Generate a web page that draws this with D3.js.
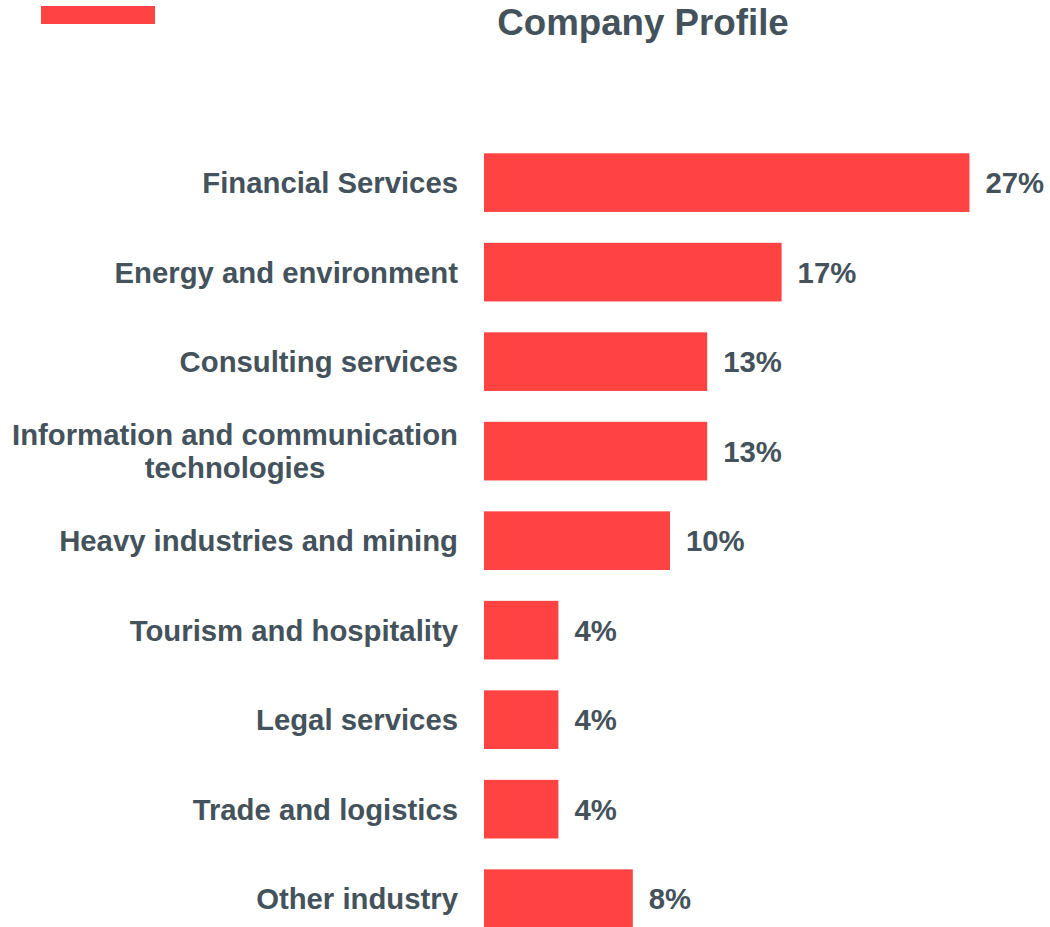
<!DOCTYPE html>
<html>
<head>
<meta charset="utf-8">
<script src="https://cdn.jsdelivr.net/npm/d3@7"></script>
<style>
  body { margin: 0; background: #fff; }
  svg text { font-family: "Liberation Sans", Arial, sans-serif; font-weight: bold; fill: #44525c; }
</style>
</head>
<body>
<div id="chart"></div>
<script>

// categories (top to bottom), bar lengths, printed labels
var categories = [
  "Financial Services",
  "Energy and environment",
  "Consulting services",
  "Information and communication technologies",
  "Heavy industries and mining",
  "Tourism and hospitality",
  "Legal services",
  "Trade and logistics",
  "Other industry"
];
var values = [26.1, 16.0, 12.0, 12.0, 10.0, 4.0, 4.0, 4.0, 8.0];
var valueLabels = ["27%", "17%", "13%", "13%", "10%", "4%", "4%", "4%", "8%"];

// category labels that wrap onto two lines
var wrapped = {
  "Information and communication technologies": ["Information and communication", "technologies"]
};

var width = 1050, height = 927;
var barColor = "#ff4242";
var labelSize = "29.3px";

var svg = d3.select("#chart")
  .append("svg")
  .attr("width", width)
  .attr("height", height);

// little red marker, top left
svg.append("rect")
  .attr("x", 41)
  .attr("y", 6)
  .attr("width", 114)
  .attr("height", 18)
  .attr("fill", barColor);

svg.append("text")
  .attr("x", 643)
  .attr("y", 35)
  .attr("text-anchor", "middle")
  .style("font-size", "36.7px")
  .text("Company Profile");

var xScale = d3.scaleLinear().domain([0, 1]).range([484, 484 + 18.6]);
var yScale = d3.scaleBand()
  .domain(categories)
  .range([153.3, 928])
  .paddingInner(0.345)
  .paddingOuter(0);

var rows = svg.selectAll("g.row")
  .data(categories)
  .enter()
  .append("g")
  .attr("class", "row");

rows.append("rect")
  .attr("x", xScale(0))
  .attr("y", function (d) { return yScale(d); })
  .attr("width", function (d, i) { return xScale(values[i]) - xScale(0); })
  .attr("height", yScale.bandwidth())
  .attr("fill", barColor);

rows.append("text")
  .attr("x", function (d, i) { return xScale(values[i]) + 16; })
  .attr("y", function (d) { return yScale(d) + yScale.bandwidth() / 2; })
  .attr("dy", "0.36em")
  .style("font-size", labelSize)
  .text(function (d, i) { return valueLabels[i]; });

// category labels, right aligned next to the bars
rows.each(function (d) {
  var g = d3.select(this);
  var cy = yScale(d) + yScale.bandwidth() / 2;
  var lines = wrapped[d] || [d];
  if (lines.length == 1) {
    g.append("text")
      .attr("x", 458)
      .attr("y", cy)
      .attr("dy", "0.36em")
      .attr("text-anchor", "end")
      .style("font-size", labelSize)
      .text(d);
  } else {
    // two lines: first right aligned, second centred under it
    var t1 = g.append("text")
      .attr("x", 458)
      .attr("y", cy - 16.5)
      .attr("dy", "0.36em")
      .attr("text-anchor", "end")
      .style("font-size", labelSize)
      .text(lines[0]);
    var w = t1.node().getComputedTextLength();
    g.append("text")
      .attr("x", 458 - w / 2)
      .attr("y", cy + 16.5)
      .attr("dy", "0.36em")
      .attr("text-anchor", "middle")
      .style("font-size", labelSize)
      .text(lines[1]);
  }
});

</script>
</body>
</html>
